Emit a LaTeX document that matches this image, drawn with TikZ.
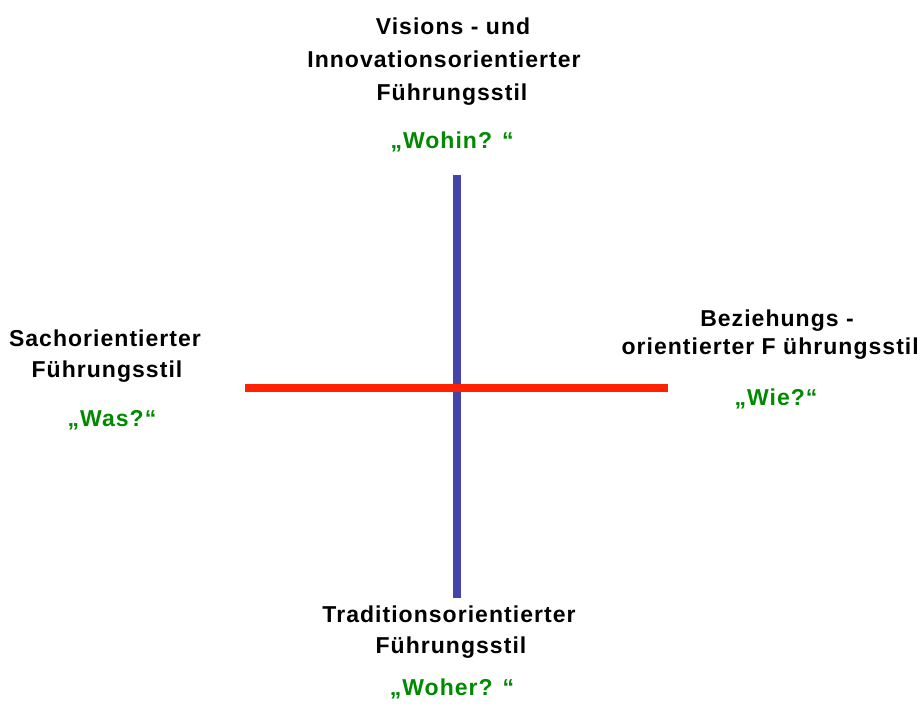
\documentclass[tikz,border=0pt]{standalone}
\usepackage{fontspec}
\setmainfont{Liberation Sans}
\newfontfamily\lblfont[LetterSpace=4.5]{Liberation Sans}
\definecolor{axisblue}{RGB}{68,68,170}
\definecolor{axisred}{RGB}{255,34,0}
\definecolor{qgreen}{RGB}{0,138,0}
\begin{document}
\begin{tikzpicture}[x=1pt,y=-1pt,
  lbl/.style={anchor=base,inner sep=0pt,font=\lblfont\fontsize{23}{28}\selectfont\bfseries,text=black},
  qlbl/.style={lbl,text=qgreen}]
\useasboundingbox (0,0) rectangle (923,707);
% axes
\coordinate (vtop) at (457,175);
\coordinate (vbot) at (457,598);
\coordinate (hl) at (245,388);
\coordinate (hr) at (668,388);
\draw[axisblue,line width=8pt] (vtop) -- (vbot);
\draw[axisred,line width=8pt] (hl) -- (hr);
% top
\node[lbl] (t1) at (453,34) {Visions - und};
\node[lbl] (t2) at (444,67) {Innovationsorientierter};
\node[lbl] (t3) at (452,100) {Führungsstil};
\node[qlbl] (t4) at (452,148) {„Wohin? “};
% left
\node[lbl] (l1) at (105,346) {Sachorientierter};
\node[lbl] (l2) at (107,377) {Führungsstil};
\node[qlbl] (l3) at (112,426) {„Was?“};
% right
\node[lbl] (r1) at (777,326) {Beziehungs -};
\node[lbl,anchor=base east] (r2) at (919,354) {orientierter F ührungsstil};
\node[qlbl] (r3) at (776,405) {„Wie?“};
% bottom
\node[lbl] (b1) at (449,622) {Traditionsorientierter};
\node[lbl] (b2) at (451,653) {Führungsstil};
\node[qlbl] (b3) at (452,695) {„Woher? “};
\end{tikzpicture}
\end{document}
